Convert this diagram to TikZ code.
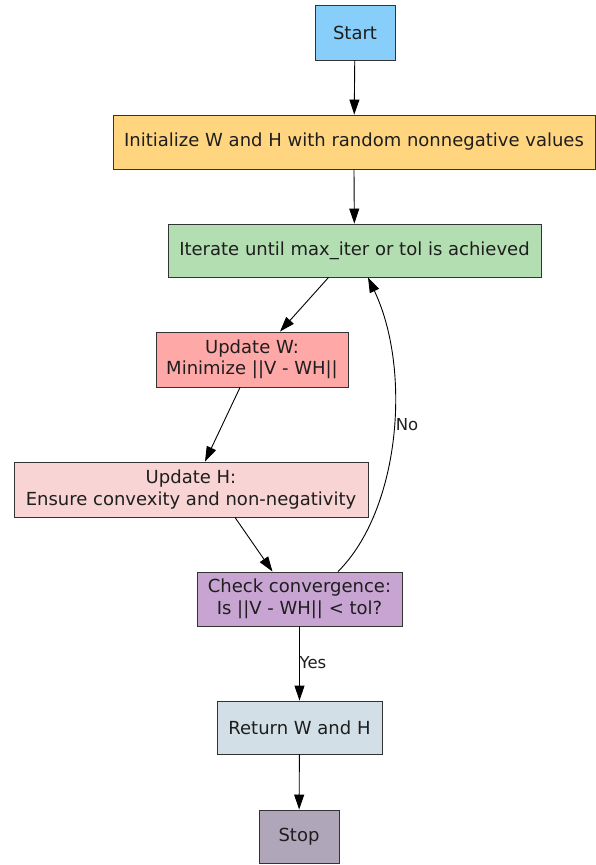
\documentclass[tikz,border=0pt]{standalone}
\usepackage{fontspec}
\setmainfont{DejaVu Sans}
\usetikzlibrary{arrows.meta}
\definecolor{cstart}{RGB}{135,206,250}
\definecolor{cinit}{RGB}{255,213,128}
\definecolor{citer}{RGB}{178,222,178}
\definecolor{cuw}{RGB}{255,168,168}
\definecolor{cuh}{RGB}{249,212,212}
\definecolor{ccheck}{RGB}{200,164,210}
\definecolor{cret}{RGB}{211,223,230}
\definecolor{cstop}{RGB}{176,166,186}
\definecolor{ctext}{RGB}{30,30,30}
\begin{document}
\begin{tikzpicture}[x=1pt,y=-1pt,
  box/.style={draw=black!80,line width=0.9pt,rectangle,inner sep=0pt,align=center,
    text=ctext,font=\fontsize{18}{21.5}\selectfont},
  arr/.style={draw=black,line width=0.9pt,-{Triangle[length=15pt,width=10pt]}},
  lbl/.style={text=ctext,font=\fontsize{16.5}{19}\selectfont,inner sep=0pt}]
\useasboundingbox (0,0) rectangle (595,865);
\fill[white] (0,0) rectangle (595,865);
\node[box,fill=cstart,minimum width=80pt,minimum height=55pt] (start) at (355,32.5) {Start};
\node[box,fill=cinit,minimum width=482pt,minimum height=54pt] (init) at (354,142) {Initialize W and H with random nonnegative values};
\node[box,fill=citer,minimum width=373pt,minimum height=53pt] (iter) at (354.5,250.5) {Iterate until max\_iter or tol is achieved};
\node[box,fill=cuw,minimum width=192pt,minimum height=55pt] (uw) at (252,359.5) {Update W:\\Minimize ||V - WH||};
\node[box,fill=cuh,minimum width=354pt,minimum height=55pt] (uh) at (191,489.5) {Update H:\\Ensure convexity and non-negativity};
\node[box,fill=ccheck,minimum width=205pt,minimum height=54pt] (check) at (299.5,599) {Check convergence:\\Is ||V - WH|| < tol?};
\node[box,fill=cret,minimum width=165pt,minimum height=53pt] (ret) at (299.5,727.5) {Return W and H};
\node[box,fill=cstop,minimum width=80pt,minimum height=53pt] (stop) at (299,836.5) {Stop};
\draw[arr] (start) -- (init);
\draw[arr] (init.south -| 354,0) -- (iter);
\draw[arr] ([xshift=-26pt]iter.south) -- ([xshift=28pt]uw.north);
\draw[arr] ([xshift=-12pt]uw.south) -- ([xshift=14pt]uh.north);
\draw[arr] ([xshift=44pt]uh.south) -- ([xshift=-27pt]check.north);
\draw[arr] ([xshift=38.5pt]check.north) .. controls (400,510) and (412,370) .. ([xshift=13.5pt]iter.south);
\node[lbl] (no) at (407,425) {No};
\draw[arr] (check) -- (ret);
\node[lbl] (yes) at (313,663) {Yes};
\draw[arr] (ret) -- (stop);
\end{tikzpicture}
\end{document}
